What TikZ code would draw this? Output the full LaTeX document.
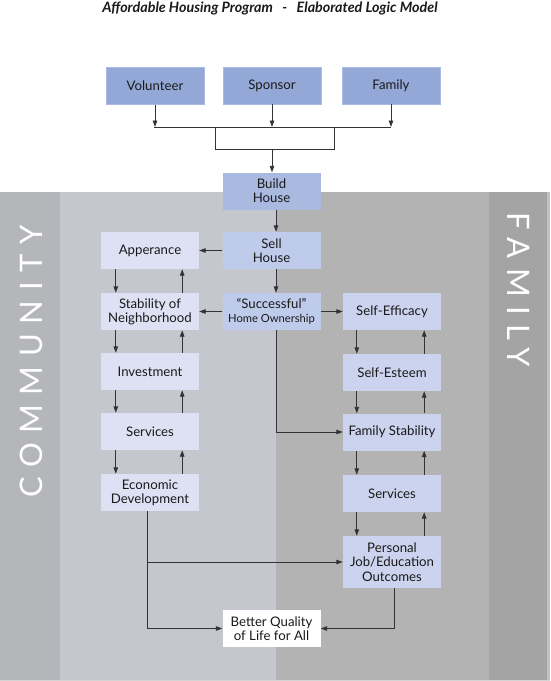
\documentclass[tikz,border=0pt]{standalone}
\usepackage{fontspec}
\setmainfont{Lato}
\newfontfamily\bandfont[LetterSpace=31]{Lato}
\usetikzlibrary{arrows.meta}
\definecolor{bgL}{HTML}{B4B6B9}
\definecolor{bgC}{HTML}{C4C7CE}
\definecolor{bgM}{HTML}{B3B3B3}
\definecolor{bgR}{HTML}{A4A4A4}
\definecolor{bgS}{HTML}{C2C2C2}
\definecolor{topc}{HTML}{93A8D6}
\definecolor{topb}{HTML}{A9BBE2}
\definecolor{buildc}{HTML}{A9B9E0}
\definecolor{sellc}{HTML}{BFCBEA}
\definecolor{leftc}{HTML}{DEE1F4}
\definecolor{rightc}{HTML}{CBD3EE}
\definecolor{ln}{HTML}{333333}
\definecolor{txt}{HTML}{1A1A1A}
\newcommand\boxfont{\fontsize{13.2}{14.2}\selectfont}
\begin{document}
\begin{tikzpicture}[x=1pt,y=-1pt,
  box/.style={minimum width=98pt, minimum height=37pt, inner sep=0pt, align=center, font=\boxfont, text=txt},
  topbox/.style={box, fill=topc, draw=topb, line width=0.8pt},
  conn/.style={draw=ln, line width=0.9pt},
  arr/.style={conn, -{Triangle[length=6.5pt,width=4.5pt]}},
  band/.style={text=white, inner sep=0pt, font=\bandfont\fontsize{31}{31}\selectfont}
]
\useasboundingbox (0,0) rectangle (550,681);
% background bands
\fill[bgL] (0,192) rectangle (60,681);
\fill[bgC] (60,192) rectangle (276,681);
\fill[bgM] (276,192) rectangle (489,681);
\fill[bgR] (489,192) rectangle (547,681);
\fill[bgS] (547,192) rectangle (550,681);
\fill[bgS!70!white] (0,680) rectangle (550,681);

% title
\node[font=\bfseries\itshape\fontsize{14.3}{16}\selectfont, text=txt] (title) at (270,8)
  {Affordable Housing Program \ \ - \ \ Elaborated Logic Model};

% side labels
\node[band, rotate=90, anchor=west] (community) at (31,498) {COMMUNITY};
\node[band, rotate=-90, anchor=west] (familyband) at (519,212) {FAMILY};

% top boxes
\node[topbox] (vol) at (155,86) {Volunteer};
\node[topbox] (spo) at (272,85.5) {Sponsor};
\node[topbox] (fam) at (391,85.5) {Family};

% centre column
\node[box, fill=buildc] (build) at (271.5,191) {Build\\House};
\node[box, fill=sellc] (sell) at (271.5,250.5) {Sell\\House};
\node[box, fill=sellc] (succ) at (271.5,311.5) {“Successful”\\{\fontsize{11.2}{12}\selectfont Home Ownership}};
\node[box, fill=white] (better) at (271.5,628.5) {Better Quality\\of Life for All};

% left column
\node[box, fill=leftc] (app) at (150,250.5) {Apperance};
\node[box, fill=leftc] (stab) at (150,311.5) {Stability of\\Neighborhood};
\node[box, fill=leftc] (inv) at (150,371.5) {Investment};
\node[box, fill=leftc] (servl) at (150,431.5) {Services};
\node[box, fill=leftc] (eco) at (150,492.5) {Economic\\Development};

% right column
\node[box, fill=rightc] (eff) at (392,311.5) {Self-Efficacy};
\node[box, fill=rightc] (est) at (392,372.5) {Self-Esteem};
\node[box, fill=rightc] (fstab) at (392,432) {Family Stability};
\node[box, fill=rightc] (servr) at (392,493.5) {Services};
\node[box, fill=rightc, minimum height=52pt] (pers) at (392,562) {Personal\\Job/Education\\Outcomes};

% merge of inputs
\coordinate (hl) at (154,127);
\coordinate (hr) at (391,127);
\coordinate (jl) at (215,127);
\coordinate (jr) at (334,127);
\coordinate (jbl) at (215,149);
\coordinate (jbr) at (334,149);
\coordinate (jm) at (272,149);
\draw[conn] (hl) -- (hr);
\draw[arr] (vol.south) -- (vol.south |- hl);
\draw[arr] (spo.south) -- (spo.south |- hl);
\draw[arr] (fam.south) -- (fam.south |- hr);
\draw[conn] (jl) -- (jbl) -- (jbr) -- (jr);
\draw[arr] (jm) -- (jm |- build.north);

% centre flow
\draw[arr] ([xshift=4.5pt]build.south) -- ([xshift=4.5pt]sell.north);
\draw[arr] ([xshift=4.5pt]sell.south) -- ([xshift=4.5pt]succ.north);
\draw[arr] (sell.west) -- (app.east);
\draw[arr] (succ.west) -- (stab.east);
\draw[arr] (succ.east) -- (eff.west);
\draw[arr] ([xshift=4.5pt]succ.south) |- (fstab.west);

% left column pairs
\foreach \a/\b in {app/stab, stab/inv, inv/servl, servl/eco}{
  \draw[arr] ([xshift=15pt]\a.south west) -- ([xshift=15pt]\b.north west);
  \draw[arr] ([xshift=-17pt]\b.north east) -- ([xshift=-17pt]\a.south east);
}
% right column pairs
\foreach \a/\b in {eff/est, est/fstab, fstab/servr, servr/pers}{
  \draw[arr] ([xshift=14pt]\a.south west) -- ([xshift=14pt]\b.north west);
  \draw[arr] ([xshift=-17pt]\b.north east) -- ([xshift=-17pt]\a.south east);
}

% outcomes
\draw[arr] ([xshift=-3pt]eco.south) |- (better.west);
\draw[arr] ([xshift=-3pt]eco.south) |- (pers.west);
\draw[arr] ([xshift=2pt]pers.south) |- (better.east);
\end{tikzpicture}
\end{document}
